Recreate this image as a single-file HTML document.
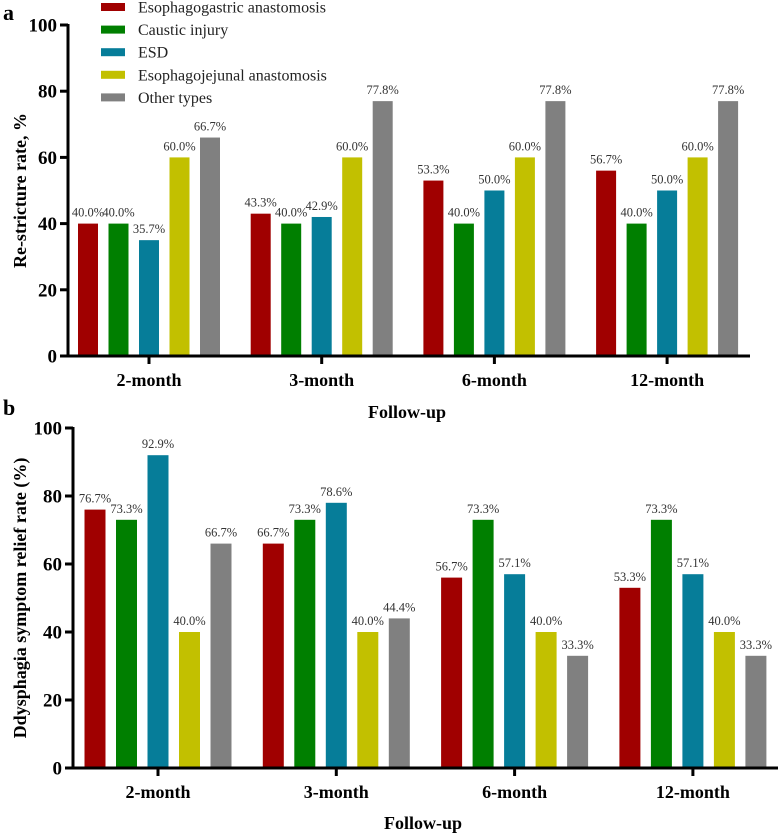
<!DOCTYPE html>
<html><head><meta charset="utf-8"><style>
body{margin:0;background:#fff}
svg{display:block;font-family:"Liberation Serif",serif}
</style></head><body>
<svg id="c" width="779" height="834"></svg>
<script>
const categories=["2-month","3-month","6-month","12-month"];
const seriesNames=["Esophagogastric anastomosis","Caustic injury","ESD","Esophagojejunal anastomosis","Other types"];
const colors=["#a00000","#007f00","#067d99","#c2c000","#808080"];
const restrictureA=[[40.0,43.3,53.3,56.7],[40.0,40.0,40.0,40.0],[35.7,42.9,50.0,50.0],[60.0,60.0,60.0,60.0],[66.7,77.8,77.8,77.8]];
const reliefB=[[76.7,66.7,56.7,53.3],[73.3,73.3,73.3,73.3],[92.9,78.6,57.1,57.1],[40.0,40.0,40.0,40.0],[66.7,44.4,33.3,33.3]];
const yTicks=[0,20,40,60,80,100];
const NS="http://www.w3.org/2000/svg";
const svg=document.getElementById('c');
function el(tag,attrs,parent,text){const e=document.createElementNS(NS,tag);for(const k in attrs)e.setAttribute(k,attrs[k]);if(text!==undefined)e.textContent=text;(parent||svg).appendChild(e);return e;}

function panel(cfg,data,letter,ytitle,pname){
  const g=el('g',{});
  
  
  const y=v=>cfg.y0-(v/100)*(cfg.y0-cfg.y100);
  const gx=i=>cfg.c0+i*cfg.gp;
  const L=el('text',{x:3,y:cfg.letterY,'font-size':22,'font-weight':'bold'},g,letter);
  
  
  data.forEach((ser,s)=>{ser.forEach((v,i)=>{
    const x=gx(i)+(s-2)*cfg.bp-cfg.bw/2;
    const hv=Math.floor(v);
    const r=el('rect',{x:x,y:y(hv),width:cfg.bw,height:cfg.y0-y(hv),fill:colors[s]},g);
    
    
    const t=el('text',{x:x+cfg.bw/2,y:y(hv)-7,'font-size':12.5,fill:'#333','text-anchor':'middle'},g,v.toFixed(1)+'%');
    
    
  });});
  const ya=el('line',{x1:cfg.ax,y1:cfg.y100-1,x2:cfg.ax,y2:cfg.y0+1.5,stroke:'#000','stroke-width':3},g);
  
  
  const xa=el('line',{x1:cfg.ax-8,y1:cfg.y0,x2:cfg.xend,y2:cfg.y0,stroke:'#000','stroke-width':3},g);
  
  
  yTicks.forEach(v=>{
    el('line',{x1:cfg.ax-8,y1:y(v),x2:cfg.ax,y2:y(v),stroke:'#000','stroke-width':3},g);
    const t=el('text',{x:cfg.ax-11,y:y(v)+6.5,'font-size':19,'font-weight':'bold','text-anchor':'end'},g,v);
    
    
  });
  categories.forEach((c,i)=>{
    el('line',{x1:gx(i),y1:cfg.y0,x2:gx(i),y2:cfg.y0+8,stroke:'#000','stroke-width':3},g);
    const t=el('text',{x:gx(i),y:cfg.y0+30,'font-size':18,'font-weight':'bold','text-anchor':'middle'},g,c);
    
    
  });
  const xt=el('text',{x:cfg.xtX,y:cfg.xtY,'font-size':18,'font-weight':'bold','text-anchor':'middle'},g,'Follow-up');
  
  
  const yc=(cfg.y0+cfg.y100)/2;
  const yt=el('text',{x:0,y:0,'font-size':18,'font-weight':'bold','text-anchor':'middle',transform:'translate('+cfg.ytX+','+yc+') rotate(-90)'},g,ytitle);
  
  
}
panel({y0:356,y100:25,c0:149,gp:172.7,bp:30.5,bw:20,ax:68,xend:750,xtX:407,xtY:418,ytX:26,letterY:20},restrictureA,'a','Re-stricture rate, %','panel-a-restricture');
panel({y0:768,y100:428,c0:158,gp:178.3,bp:31.5,bw:21,ax:73,xend:778,xtX:423,xtY:829,ytX:26,letterY:415},reliefB,'b','Ddysphagia symptom relief rate (%)','panel-b-relief');

const lg=el('g',{});


seriesNames.forEach((n,s)=>{
  const yy=7+s*22.6;
  const e=el('g',{},lg);
  
  
  el('rect',{x:101,y:yy-4,width:24,height:8,fill:colors[s]},e);
  el('text',{x:138,y:yy+5.5,'font-size':16,fill:'#222'},e,n);
});
</script>
</body></html>
